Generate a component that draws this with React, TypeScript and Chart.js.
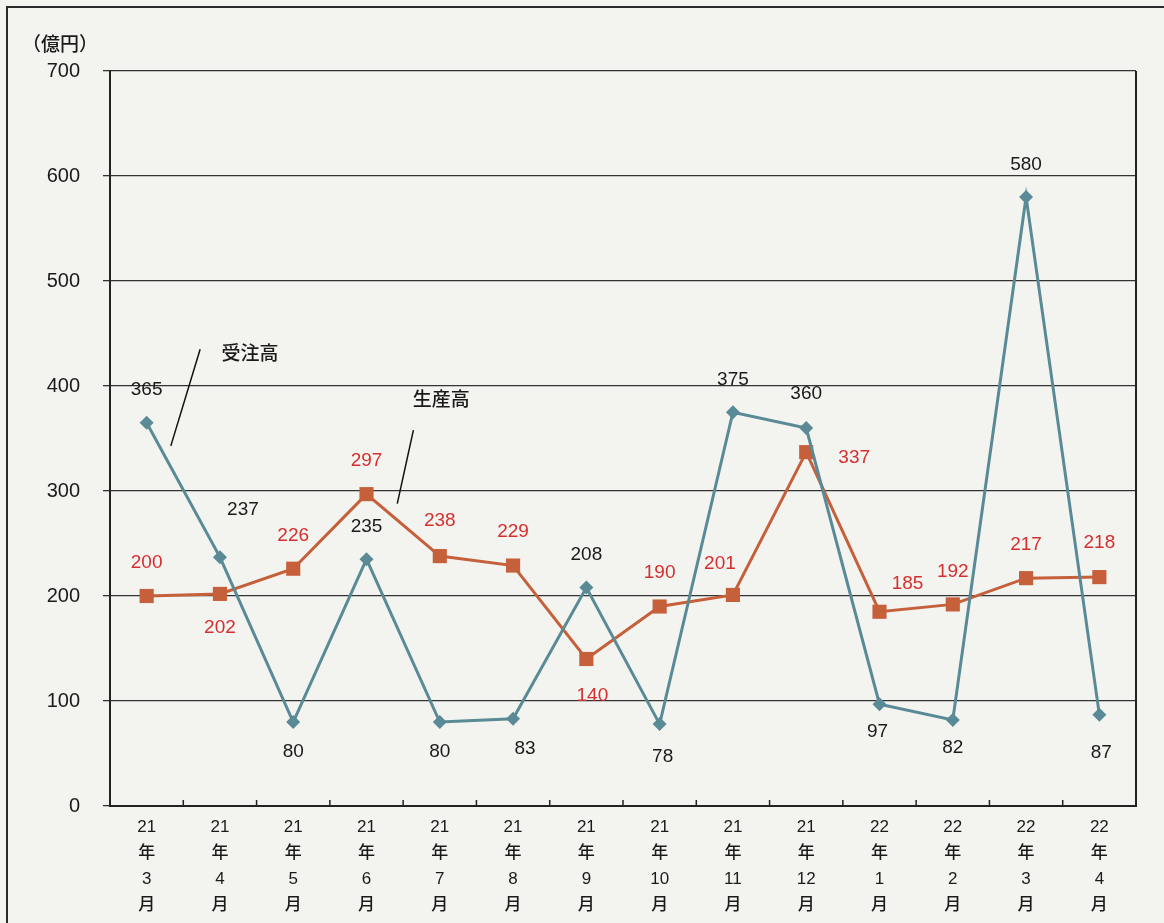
import React, { useEffect, useRef } from "react";
import { Chart, registerables } from "chart.js";

Chart.register(...registerables);

const categories: string[][] = [
  ["21", "年", "3", "月"], ["21", "年", "4", "月"], ["21", "年", "5", "月"], ["21", "年", "6", "月"],
  ["21", "年", "7", "月"], ["21", "年", "8", "月"], ["21", "年", "9", "月"], ["21", "年", "10", "月"],
  ["21", "年", "11", "月"], ["21", "年", "12", "月"], ["22", "年", "1", "月"], ["22", "年", "2", "月"],
  ["22", "年", "3", "月"], ["22", "年", "4", "月"],
];

const ordersValues = [365, 237, 80, 235, 80, 83, 208, 78, 375, 360, 97, 82, 580, 87];
const productionValues = [200, 202, 226, 297, 238, 229, 140, 190, 201, 337, 185, 192, 217, 218];

const ordersName = "受注高";
const productionName = "生産高";
const unitLabel = "（億円）";

const yMin = 0;
const yMax = 700;
const yStep = 100;

// label offsets (px) relative to each point
const ordersLabelOffsets: [number, number][] = [
  [0, -33], [23, -47], [0, 30], [0, -32], [0, 30], [12, 30], [0, -33],
  [3, 33], [0, -32], [0, -34], [-2, 28], [0, 28], [0, -32], [2, 38],
];
const productionLabelOffsets: [number, number][] = [
  [0, -33], [0, 34], [0, -33], [0, -33], [0, -35], [0, -34], [6, 37],
  [0, -34], [-13, -31], [48, 6], [28, -28], [0, -33], [0, -33], [0, -34],
];

const BLUE = "#5a8a96";
const RED = "#c5603b";
const RED_TEXT = "#d42f2f";
const INK = "#1a1a1a";
const BG = "#f3f4f0";

const decorPlugin = {
  id: "decor",
  beforeDraw(chart: any) {
    const { ctx, width, height } = chart;
    ctx.save();
    ctx.fillStyle = BG;
    ctx.fillRect(0, 0, width, height);
    // outer frame
    ctx.strokeStyle = "#2a2a2a";
    ctx.lineWidth = 2;
    ctx.beginPath();
    ctx.moveTo(7, height + 5);
    ctx.lineTo(7, 7);
    ctx.lineTo(width + 5, 7);
    ctx.stroke();
    // unit label
    ctx.fillStyle = INK;
    ctx.font = "500 19px 'Noto Sans CJK JP', 'Liberation Sans', sans-serif";
    ctx.textAlign = "left";
    ctx.textBaseline = "middle";
    ctx.fillText(unitLabel, 22, 44);
    ctx.restore();
  },
  afterDraw(chart: any) {
    const { ctx, chartArea } = chart;
    const xs = chart.scales.x;
    const ys = chart.scales.y;
    ctx.save();
    // right border of plot
    ctx.strokeStyle = "#222";
    ctx.lineWidth = 2;
    ctx.beginPath();
    ctx.moveTo(chartArea.right, chartArea.top);
    ctx.lineTo(chartArea.right, chartArea.bottom);
    ctx.stroke();
    // inward ticks at category boundaries
    ctx.lineWidth = 1.5;
    for (let i = 0; i < categories.length - 1; i++) {
      const px = (xs.getPixelForValue(i) + xs.getPixelForValue(i + 1)) / 2;
      ctx.beginPath();
      ctx.moveTo(px, chartArea.bottom);
      ctx.lineTo(px, chartArea.bottom - 6);
      ctx.stroke();
    }
    // data labels
    ctx.font = "19px 'Liberation Sans', Arial, sans-serif";
    ctx.textAlign = "center";
    ctx.textBaseline = "middle";
    const drawLabels = (idx: number, values: number[], offs: [number, number][], color: string) => {
      const meta = chart.getDatasetMeta(idx);
      ctx.fillStyle = color;
      meta.data.forEach((pt: any, i: number) => {
        ctx.fillText(String(values[i]), pt.x + offs[i][0], pt.y + offs[i][1]);
      });
    };
    drawLabels(0, ordersValues, ordersLabelOffsets, INK);
    drawLabels(1, productionValues, productionLabelOffsets, RED_TEXT);
    // series annotations with leader lines
    ctx.strokeStyle = "#111";
    ctx.lineWidth = 1.5;
    const leader = (x1: number, v1: number, x2: number, v2: number) => {
      ctx.beginPath();
      ctx.moveTo(xs.getPixelForValue(x1), ys.getPixelForValue(v1));
      ctx.lineTo(xs.getPixelForValue(x2), ys.getPixelForValue(v2));
      ctx.stroke();
    };
    leader(0.73, 435, 0.33, 343);
    leader(3.64, 358, 3.42, 288);
    ctx.fillStyle = INK;
    ctx.font = "500 19px 'Noto Sans CJK JP', sans-serif";
    ctx.textAlign = "left";
    ctx.fillText(ordersName, xs.getPixelForValue(1.02), ys.getPixelForValue(432));
    ctx.fillText(productionName, xs.getPixelForValue(3.63), ys.getPixelForValue(388));
    ctx.restore();
  },
};

export default function App() {
  const ref = useRef<HTMLCanvasElement | null>(null);
  useEffect(() => {
    if (!ref.current) return;
    const chart = new Chart(ref.current, {
      type: "line",
      data: {
        labels: categories,
        datasets: [
          {
            label: ordersName,
            data: ordersValues,
            borderColor: BLUE,
            backgroundColor: BLUE,
            borderWidth: 3,
            pointStyle: "rectRot",
            pointRadius: 7,
            pointBackgroundColor: BLUE,
            pointBorderWidth: 0,
            tension: 0,
          },
          {
            label: productionName,
            data: productionValues,
            borderColor: RED,
            backgroundColor: RED,
            borderWidth: 3,
            pointStyle: "rect",
            pointRadius: 10,
            pointBackgroundColor: RED,
            pointBorderWidth: 0,
            tension: 0,
          },
        ],
      },
      options: {
        responsive: false,
        animation: false,
        devicePixelRatio: 1,
        layout: { padding: { left: 0, right: 28, top: 71, bottom: 0 } },
        plugins: { legend: { display: false }, tooltip: { enabled: false } },
        scales: {
          x: {
            type: "category",
            offset: true,
            grid: { offset: true, drawOnChartArea: false, drawTicks: false },
            border: { display: true, color: "#222", width: 2 },
            ticks: {
              color: INK,
              padding: 8,
              maxRotation: 0,
              autoSkip: false,
              font: { family: "'Liberation Sans', 'Noto Sans CJK JP', sans-serif", size: 17, weight: "500", lineHeight: "26px" },
            },
            afterFit: (s: any) => { s.height = 117; },
          },
          y: {
            min: yMin,
            max: yMax,
            ticks: {
              stepSize: yStep,
              color: INK,
              padding: 23,
              font: { family: "'Liberation Sans', Arial, sans-serif", size: 20 },
            },
            grid: { color: "#333", lineWidth: 1.3, tickLength: 7, drawTicks: true },
            border: { display: true, color: "#222", width: 2 },
            afterFit: (s: any) => { s.width = 110; },
          },
        },
      },
      plugins: [decorPlugin],
    } as any);
    return () => chart.destroy();
  }, []);
  return (
    <canvas
      ref={ref}
      width={1164}
      height={923}
      style={{ position: "fixed", left: 0, top: 0, width: 1164, height: 923, display: "block" }}
    />
  );
}
